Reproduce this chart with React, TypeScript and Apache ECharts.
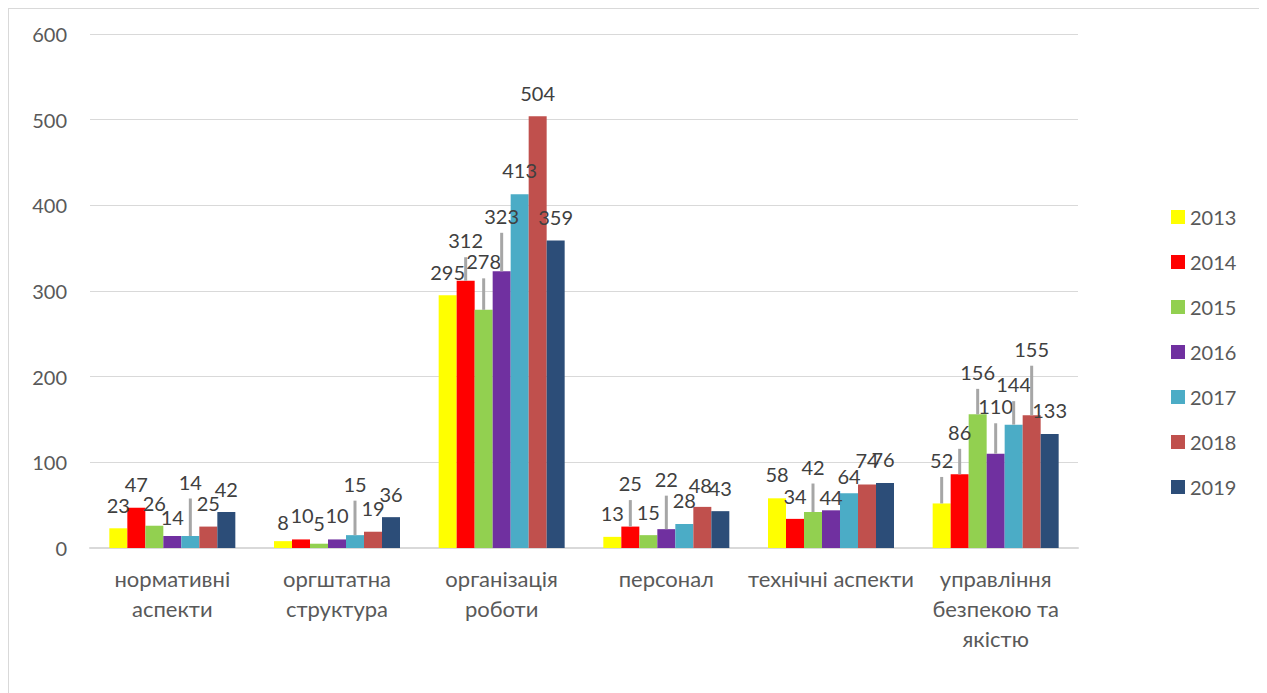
import React, { useEffect, useRef } from "react";
import * as echarts from "echarts";

const categories = [
  "нормативні\nаспекти",
  "оргштатна\nструктура",
  "організація\nроботи",
  "персонал",
  "технічні аспекти",
  "управління\nбезпекою та\nякістю",
];

const years = ["2013", "2014", "2015", "2016", "2017", "2018", "2019"];

const v2013 = [23, 8, 295, 13, 58, 52];
const v2014 = [47, 10, 312, 25, 34, 86];
const v2015 = [26, 5, 278, 15, 42, 156];
const v2016 = [14, 10, 323, 22, 44, 110];
const v2017 = [14, 15, 413, 28, 64, 144];
const v2018 = [25, 19, 504, 48, 74, 155];
const v2019 = [42, 36, 359, 43, 76, 133];
const seriesValues = [v2013, v2014, v2015, v2016, v2017, v2018, v2019];

const colors = ["#ffff00", "#ff0000", "#92d050", "#7030a0", "#4bacc6", "#c0504d", "#2c4d78"];

// label layout: [dx, dy, leader line 1/0] per series, per category
const labelShift: number[][][] = [
  [[0, 0, 0], [0, 4, 0], [0, 0, 0], [0, 0, 0], [0, -1, 0], [0, -20, 1]],
  [[0, 0, 0], [1, -1, 0], [0, -17, 1], [0, -20, 1], [0, 0.5, 0], [0, -19, 1]],
  [[0, 1, 0], [0, 3, 0], [0, -25, 1], [0, 0, 0], [0, -22, 1], [0, -19, 1]],
  [[0, 4, 0], [0, -1, 0], [0, -32, 1], [0, -27, 1], [0, 10, 0], [0, -24, 1]],
  [[0, -31, 1], [0, -28, 1], [0, -1, 0], [0, -1, 0], [0, 6, 0], [0, -17, 1]],
  [[0, 0, 0], [0, 0, 0], [0, 0, 0], [-2, 1.5, 0], [0, -1, 0], [0, -43, 1]],
  [[0, 0, 0], [0, 0, 0], [0, 0, 0], [0, 0, 0], [-2, 0, 0], [0, -1, 0]],
];

const FONT = "Lato, 'Open Sans', 'Noto Sans', sans-serif";
const BAR_W = 18;

export default function App() {
  const ref = useRef<HTMLDivElement>(null);
  useEffect(() => {
    document.body.style.overflow = "hidden";
    const chart = echarts.init(ref.current!, undefined, { renderer: "svg" });
    const barSeries = years.map((y, si) => ({
      name: y,
      type: "bar",
      barWidth: BAR_W,
      barGap: "0%",
      z: 2,
      itemStyle: { color: colors[si] },
      label: {
        show: true,
        position: "top",
        distance: 7.5,
        fontSize: 20,
        lineHeight: 20,
        padding: [0, 0, 6, 0],
        color: "#404040",
        fontFamily: FONT,
      },
      data: seriesValues[si].map((v, ci) => {
        const s = labelShift[si][ci];
        return { value: v, label: { offset: [s[0], s[1]] } };
      }),
    }));
    const leaders: number[][] = [];
    seriesValues.forEach((vals, si) =>
      vals.forEach((v, ci) => {
        const s = labelShift[si][ci];
        if (s[2] === 1) leaders.push([ci, v, si, s[1]]);
      })
    );
    const leaderSeries = {
      type: "custom",
      name: "leaders",
      z: 3,
      silent: true,
      data: leaders,
      renderItem: (_p: any, api: any) => {
        const c = api.coord([api.value(0), api.value(1)]);
        const x = c[0] + (api.value(2) - 3) * BAR_W;
        const y1 = c[1];
        const y2 = c[1] + api.value(3) - 6.5;
        return {
          type: "line",
          shape: { x1: x, y1: y1, x2: x, y2: y2 },
          style: { stroke: "#a6a6a6", lineWidth: 3 },
        };
      },
    };
    chart.setOption({
      animation: false,
      textStyle: { fontFamily: FONT },
      grid: { left: 81, right: 185, top: 25, bottom: 145 },
      legend: {
        orient: "vertical",
        left: 1157,
        top: 193,
        itemWidth: 14,
        itemHeight: 14,
        itemGap: 25,
        icon: "rect",
        textStyle: { fontSize: 20, lineHeight: 20, color: "#595959", fontFamily: FONT },
        data: years,
      },
      xAxis: {
        type: "category",
        data: categories,
        axisLine: { lineStyle: { color: "#d9d9d9", width: 2 } },
        axisTick: { show: false },
        axisLabel: {
          interval: 0,
          fontSize: 22,
          lineHeight: 30,
          margin: 15,
          color: "#595959",
          fontFamily: FONT,
        },
      },
      yAxis: {
        type: "value",
        min: 0,
        max: 600,
        interval: 100,
        axisLine: { show: false },
        axisTick: { show: false },
        axisLabel: { fontSize: 20, margin: 23, color: "#595959", fontFamily: FONT },
        splitLine: { lineStyle: { color: "#d9d9d9", width: 1 } },
      },
      series: [...barSeries, leaderSeries],
    });
    return () => chart.dispose();
  }, []);
  return (
    <div
      style={{
        width: 1254,
        height: 684,
        borderTop: "1px solid #d9d9d9",
        borderLeft: "1px solid #d9d9d9",
        borderRight: "1px solid #d9d9d9",
        background: "#fff",
      }}
    >
      <div ref={ref} style={{ width: 1254, height: 684 }} />
    </div>
  );
}
